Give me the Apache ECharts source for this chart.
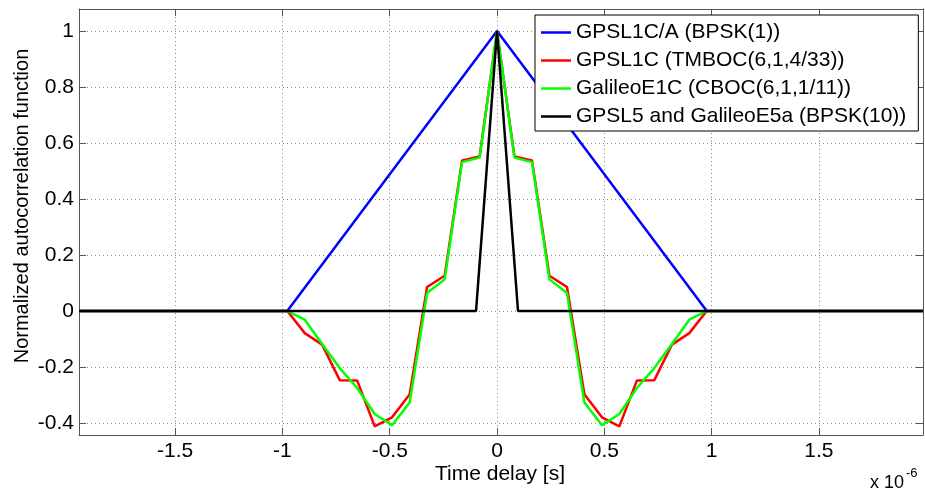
<!DOCTYPE html>
<html>
<head>
<meta charset="utf-8">
<script src="https://cdn.jsdelivr.net/npm/echarts@6/dist/echarts.min.js"></script>
<style>
  html, body { margin: 0; padding: 0; background: #fff; }
  #chart { width: 925px; height: 492px; }
</style>
</head>
<body>
<div id="chart"></div>
<script>
// time delay in units of 1e-6 s
const xMin = -1.948, xMax = 1.985;
const yMin = -0.443, yMax = 1.079;
const xTicks = [-1.5, -1, -0.5, 0, 0.5, 1, 1.5];
const yTicks = [-0.4, -0.2, 0, 0.2, 0.4, 0.6, 0.8, 1];

const seriesNames = [
  "GPSL1C/A (BPSK(1))",
  "GPSL1C (TMBOC(6,1,4/33))",
  "GalileoE1C (CBOC(6,1,1/11))",
  "GPSL5 and GalileoE5a (BPSK(10))",
];
const colors = ["#0000ff", "#ff0000", "#00ff00", "#000000"];

// BPSK(1)
const bpsk1Delay = [xMin, -0.9775, 0, 0.9775, xMax];
const bpsk1Acf = [0, 0, 1, 0, 0];

// BPSK(10)
const bpsk10Delay = [xMin, -0.0978, 0, 0.0978, xMax];
const bpsk10Acf = [0, 0, 1, 0, 0];

// BOC(6,1) sub-chip grid
const bocDelay = [xMin, -0.977, -0.896, -0.815, -0.733, -0.652, -0.570, -0.489, -0.407, -0.326, -0.244, -0.163, -0.081,
  0, 0.081, 0.163, 0.244, 0.326, 0.407, 0.489, 0.570, 0.652, 0.733, 0.815, 0.896, 0.977, xMax];
const tmbocAcf = [0, 0, -0.079, -0.12, -0.247, -0.248, -0.412, -0.380, -0.297, 0.086, 0.126, 0.538, 0.552,
  1, 0.552, 0.538, 0.126, 0.086, -0.297, -0.380, -0.412, -0.248, -0.247, -0.12, -0.079, 0, 0];
const cbocAcf = [0, 0, -0.031, -0.118, -0.204, -0.275, -0.368, -0.408, -0.327, 0.064, 0.113, 0.532, 0.548,
  1, 0.548, 0.532, 0.113, 0.064, -0.327, -0.408, -0.368, -0.275, -0.204, -0.118, -0.031, 0, 0];

const pairs = (xs, ys) => xs.map((x, i) => [x, ys[i]]);
const curves = [
  pairs(bpsk1Delay, bpsk1Acf),
  pairs(bocDelay, tmbocAcf),
  pairs(bocDelay, cbocAcf),
  pairs(bpsk10Delay, bpsk10Acf),
];

const font = "Liberation Sans, Arial, sans-serif";
const axisColor = "#555";

const boxAxis = (extra) => Object.assign({
  axisLine: { show: true, onZero: false, lineStyle: { color: axisColor, width: 1 } },
  axisTick: { show: true, inside: true, length: 7, lineStyle: { color: axisColor } },
  axisLabel: { show: false },
  splitLine: { show: false },
}, extra);

const myChart = echarts.init(document.getElementById("chart"));

let options = {
  animation: false,
  backgroundColor: "#fff",
  grid: { left: 79, right: 2, top: 9, bottom: 57 },
  legend: {
    orient: "vertical",
    left: 535,
    top: 15,
    data: seriesNames,
    icon: "rect",
    itemWidth: 30,
    itemHeight: 2.5,
    itemGap: 7,
    padding: [7, 12, 4, 6],
    borderColor: "#000",
    borderWidth: 1,
    borderRadius: 0,
    backgroundColor: "#fff",
    textStyle: { fontFamily: font, fontSize: 21, color: "#000" },
  },
  xAxis: [
    boxAxis({
      type: "value", min: xMin, max: xMax, position: "bottom",
      axisTick: { show: true, inside: true, length: 7, lineStyle: { color: axisColor }, customValues: xTicks },
      axisLabel: { show: true, customValues: xTicks, margin: 6, color: "#000", fontFamily: font, fontSize: 21 },
      splitLine: { show: true, lineStyle: { type: [1, 3], color: "#888", width: 1 } },
    }),
    boxAxis({
      type: "value", min: xMin, max: xMax, position: "top",
      axisTick: { show: true, inside: true, length: 7, lineStyle: { color: axisColor }, customValues: xTicks },
    }),
  ],
  yAxis: [
    boxAxis({
      type: "value", min: yMin, max: yMax, position: "left",
      axisTick: { show: true, inside: true, length: 7, lineStyle: { color: axisColor }, customValues: yTicks },
      axisLabel: { show: true, customValues: yTicks, margin: 5, color: "#000", fontFamily: font, fontSize: 21 },
      splitLine: { show: true, lineStyle: { type: [1, 3], color: "#888", width: 1 } },
    }),
    boxAxis({
      type: "value", min: yMin, max: yMax, position: "right",
      axisTick: { show: true, inside: true, length: 7, lineStyle: { color: axisColor }, customValues: yTicks },
    }),
  ],
  graphic: [
    {
      type: "text", x: 500, y: 474,
      style: { text: "Time delay [s]", font: "21px " + font, fill: "#000", align: "center", verticalAlign: "middle" },
    },
    {
      type: "text", x: 22, y: 206, rotation: Math.PI / 2,
      style: { text: "Normalized autocorrelation function", font: "20px " + font, fill: "#000", align: "center", verticalAlign: "middle" },
    },
    {
      type: "text", x: 870, y: 483,
      style: { text: "x 10", font: "18px " + font, fill: "#000", align: "left", verticalAlign: "middle" },
    },
    {
      type: "text", x: 906, y: 473,
      style: { text: "-6", font: "13px " + font, fill: "#000", align: "left", verticalAlign: "middle" },
    },
  ],
  series: curves.map((data, i) => ({
    name: seriesNames[i],
    type: "line",
    data: data,
    xAxisIndex: 0,
    yAxisIndex: 0,
    showSymbol: false,
    symbol: "none",
    lineStyle: { color: colors[i], width: 2.5 },
    itemStyle: { color: colors[i] },
    z: 2 + i,
  })),
};

myChart.setOption(options);
</script>
</body>
</html>
